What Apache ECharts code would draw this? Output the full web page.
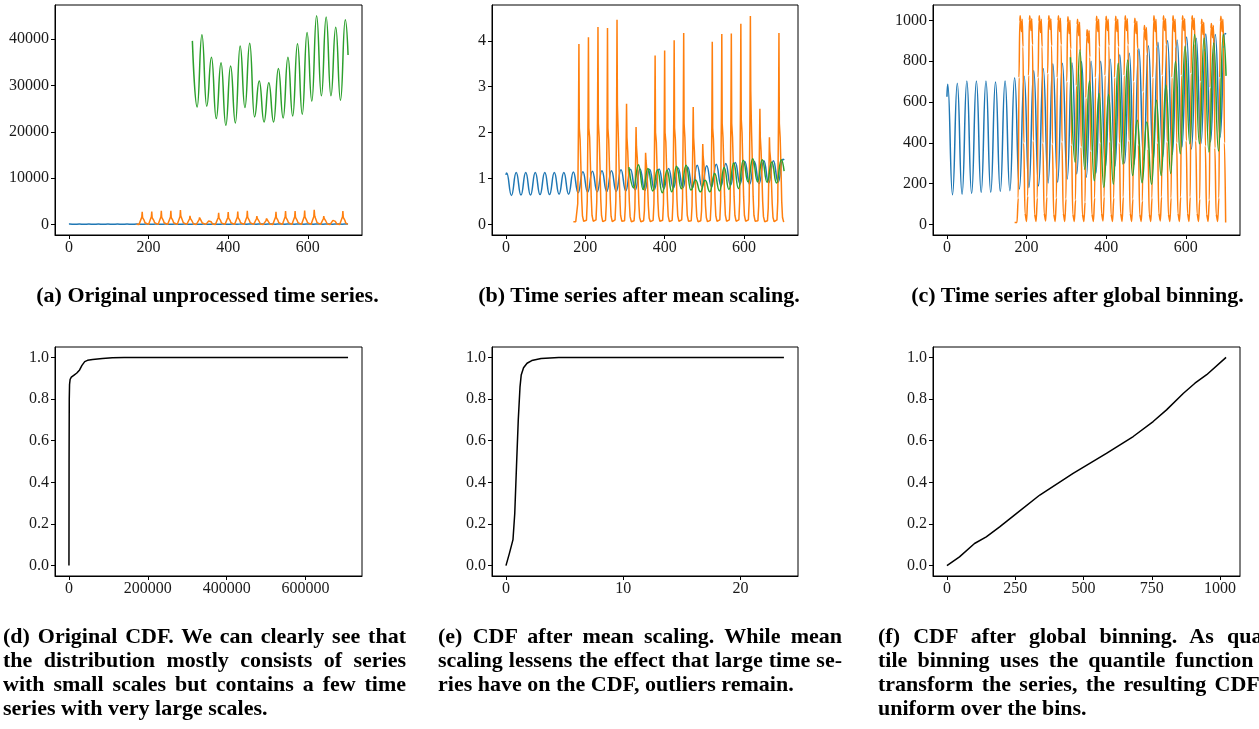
<!DOCTYPE html>
<html><head><meta charset="utf-8">
<script src="https://cdn.jsdelivr.net/npm/echarts@6/dist/echarts.min.js"></script>
<style>
html,body{margin:0;padding:0;background:#fff;overflow:hidden;width:1259px;height:729px;}
#chart{position:absolute;left:0;top:0;width:1259px;height:729px;}
.cap{position:absolute;font-family:'Liberation Serif','Times New Roman',serif;font-weight:bold;font-size:22px;line-height:24px;color:#000;white-space:nowrap;}
</style></head>
<body>
<div id="chart"></div>
<div class="cap" style="left:0px;width:415px;top:283px;text-align:center">(a) Original unprocessed time series.</div>
<div class="cap" style="left:439px;width:400px;top:283px;text-align:center">(b) Time series after mean scaling.</div>
<div class="cap" style="left:877px;width:401px;top:283px;text-align:center">(c) Time series after global binning.</div>

<div class="cap" style="left:3px;top:624px" data-j="403">(d) Original CDF. We can clearly see that</div>
<div class="cap" style="left:3px;top:648px" data-j="403">the distribution mostly consists of series</div>
<div class="cap" style="left:3px;top:672px" data-j="403">with small scales but contains a few time</div>
<div class="cap" style="left:3px;top:696px">series with very large scales.</div>

<div class="cap" style="left:438px;top:624px" data-j="404">(e) CDF after mean scaling. While mean</div>
<div class="cap" style="left:438px;top:648px" data-j="404">scaling lessens the effect that large time se-</div>
<div class="cap" style="left:438px;top:672px">ries have on the CDF, outliers remain.</div>

<div class="cap" style="left:878px;top:624px" data-j="404">(f) CDF after global binning. As quan-</div>
<div class="cap" style="left:878px;top:648px" data-j="404">tile binning uses the quantile function to</div>
<div class="cap" style="left:878px;top:672px" data-j="404">transform the series, the resulting CDF is</div>
<div class="cap" style="left:878px;top:696px">uniform over the bins.</div>
<script>
// ---------- DATA ----------
const blueTimes = [0,2,14,26,38,50,62,74,86,98,110,122,134,146,158,170,182,194,206,218,230,242,254,266,278,290,302,314,326,338,350,362,374,386,398,410,422,434,446,458,470,482,494,506,518,530,542,554,566,578,590,602,614,626,638,650,662,674,686,698,701];
const blueA = [97, 101,57, 102,58, 102,58, 102,59, 102,59, 102,59, 102,59, 103,62, 104,63, 104,64, 105,65, 105,65, 107,66, 108,68, 109,67, 108,68, 109,70, 110,71, 111,72, 113,72, 116,74, 115,74, 118,76, 120,77, 122,79, 123,78, 123,80, 125,81, 125,83, 128, 126];
const blueB = [1.08, 1.12,0.63, 1.13,0.64, 1.13,0.64, 1.13,0.65, 1.13,0.65, 1.13,0.66, 1.13,0.66, 1.14,0.69, 1.15,0.70, 1.16,0.71, 1.17,0.72, 1.17,0.72, 1.19,0.73, 1.20,0.75, 1.21,0.74, 1.20,0.76, 1.21,0.78, 1.22,0.79, 1.23,0.80, 1.25,0.80, 1.29,0.82, 1.28,0.82, 1.31,0.84, 1.33,0.85, 1.35,0.88, 1.37,0.87, 1.37,0.89, 1.39,0.90, 1.39,0.92, 1.42, 1.40];
const blueC = [626, 687,146, 692,148, 703,152, 703,157, 703,158, 698,162, 703,166, 719,174, 726,181, 754,189, 764,204, 787,207, 790,223, 792,248, 798,232, 800,250, 800,281, 810,285, 831,300, 839,295, 861,317, 875,312, 893,330, 901,343, 904,379, 918,370, 912,396, 933,404, 930,428, 935, 932];

const greenTimes = [310,322,334,346,358,370,382,394,406,418,430,442,454,466,478,490,502,514,526,538,550,562,574,586,598,610,622,634,646,658,670,682,694,701];
const greenA = [39640, 25390,40940, 25530,36090, 22860,34940, 21410,34210, 21920,38550, 25240,39130, 23220,30960, 22130,30600, 22130,33700, 23000,36090, 23440,38990, 23800,41440, 26620,45060, 27770,44770, 27770,42600, 26830,44190, 36600];
const greenB = [1.25, 0.80,1.30, 0.76,1.22, 0.73,1.19, 0.69,1.18, 0.71,1.27, 0.78,1.29, 0.75,0.97, 0.71,0.96, 0.71,1.11, 0.73,1.24, 0.76,1.34, 0.78,1.40, 0.93,1.43, 0.93,1.41, 0.92,1.36, 0.90,1.41, 1.16];
const greenC = [819, 305,856, 270,703, 214,642, 182,637, 197,790, 297,806, 240,511, 205,502, 197,609, 240,683, 250,798, 347,872, 396,930, 396,913, 355,889, 360,930, 728];

const orangeTimes = [170,
176,179,181,183,184,185,187,189,191,193,196,
200,203,205,207,208,209,211,213,215,217,220,
224,227,229,231,232,233,235,237,239,241,244,
248,251,253,255,256,257,259,261,263,265,268,
272,275,277,279,280,281,283,285,287,289,292,
296,299,301,303,304,305,307,309,311,313,316,
320,323,325,327,328,329,331,333,335,337,340,
344,347,349,351,352,353,355,357,359,361,364,
368,371,373,375,376,377,379,381,383,385,388,
392,395,397,399,400,401,403,405,407,409,412,
416,419,421,423,424,425,427,429,431,433,436,
440,443,445,447,448,449,451,453,455,457,460,
464,467,469,471,472,473,475,477,479,481,484,
488,491,493,495,496,497,499,501,503,505,508,
512,515,517,519,520,521,523,525,527,529,532,
536,539,541,543,544,545,547,549,551,553,556,
560,563,565,567,568,569,571,573,575,577,580,
584,587,589,591,592,593,595,597,599,601,604,
608,611,613,615,616,617,619,621,623,625,628,
632,635,637,639,640,641,643,645,647,649,652,
656,659,661,663,664,665,667,669,671,673,676,
680,683,685,687,688,689,691,693,695,697,700];
const orangeA = [40,
35,60,310,1600,2750,1470,1300,880,390,130,50,
35,60,350,1680,2820,1470,1330,910,420,140,50,
35,70,350,1680,2970,1540,1330,910,390,130,45,
35,60,310,1610,2970,1470,1300,880,390,130,45,
35,70,350,1750,3110,1820,1400,910,420,140,50,
35,55,280,1260,1880,1330,1120,770,350,120,45,
35,55,245,1050,1520,1190,1020,700,320,105,45,
35,55,210,770,1160,980,840,600,280,100,45,
35,60,310,1540,2530,1400,1260,840,350,130,50,
35,60,310,1540,2680,1400,1260,840,390,130,45,
35,60,350,1610,2820,1470,1300,880,390,130,50,
35,70,350,1680,2970,1540,1330,910,420,140,50,
35,55,280,1260,1810,1330,1120,770,350,120,45,
35,55,210,840,1300,1050,910,630,280,105,45,
35,60,310,1610,2750,1470,1300,880,390,130,50,
35,70,350,1680,2890,1540,1330,910,420,140,50,
35,70,350,1680,2890,1540,1330,910,420,140,50,
35,70,350,1750,3040,1610,1400,910,420,140,50,
35,70,350,1750,3180,2030,1400,950,420,140,50,
35,55,280,1260,1810,1330,1120,770,350,120,45,
35,55,245,910,1300,1120,980,670,320,105,45,
35,70,350,1680,2890,1540,1330,910,350,105,35];
const orangeB = [0.06,
0.06,0.09,0.45,2.3,3.93,2.1,1.85,1.25,0.55,0.18,0.07,
0.05,0.09,0.5,2.4,4.08,2.1,1.9,1.3,0.6,0.2,0.07,
0.05,0.1,0.5,2.4,4.30,2.2,1.9,1.3,0.55,0.19,0.06,
0.05,0.09,0.45,2.3,4.28,2.1,1.85,1.25,0.55,0.18,0.06,
0.05,0.1,0.5,2.5,4.46,2.6,2.0,1.3,0.6,0.2,0.07,
0.05,0.08,0.4,1.8,2.63,1.9,1.6,1.1,0.5,0.17,0.06,
0.05,0.08,0.35,1.5,2.12,1.7,1.45,1.0,0.45,0.15,0.06,
0.05,0.08,0.3,1.1,1.56,1.4,1.2,0.85,0.4,0.14,0.06,
0.05,0.09,0.45,2.2,3.68,2.0,1.8,1.2,0.5,0.18,0.07,
0.05,0.09,0.45,2.2,3.79,2.0,1.8,1.2,0.55,0.18,0.06,
0.05,0.09,0.5,2.3,4.01,2.1,1.85,1.25,0.55,0.19,0.07,
0.05,0.1,0.5,2.4,4.17,2.2,1.9,1.3,0.6,0.2,0.07,
0.05,0.08,0.4,1.8,2.56,1.9,1.6,1.1,0.5,0.17,0.06,
0.05,0.08,0.3,1.2,1.75,1.5,1.3,0.9,0.4,0.15,0.06,
0.05,0.09,0.45,2.3,3.98,2.1,1.85,1.25,0.55,0.18,0.07,
0.05,0.1,0.5,2.4,4.15,2.2,1.9,1.3,0.6,0.2,0.07,
0.05,0.1,0.5,2.4,4.16,2.2,1.9,1.3,0.6,0.2,0.07,
0.05,0.1,0.5,2.5,4.37,2.3,2.0,1.3,0.6,0.2,0.07,
0.05,0.1,0.5,2.5,4.54,2.9,2.0,1.35,0.6,0.2,0.07,
0.05,0.08,0.4,1.8,2.52,1.9,1.6,1.1,0.5,0.17,0.06,
0.05,0.08,0.35,1.3,1.90,1.6,1.4,0.95,0.45,0.15,0.06,
0.05,0.1,0.5,2.4,4.17,2.2,1.9,1.3,0.5,0.15,0.05];
const orangeC = [10,
10,130,720,995,1022,1000,945,1005,870,400,55,
15,140,730,1000,1022,1002,950,1008,880,410,50,
15,130,720,995,1022,1000,940,1005,870,400,55,
18,135,740,1000,1022,1005,955,1008,875,395,50,
15,130,720,998,1022,1003,945,1010,880,405,55,
15,125,700,990,1018,995,935,1000,860,390,50,
15,120,680,980,1005,985,925,990,850,380,50,
15,110,620,920,954,940,890,950,820,360,50,
15,130,720,995,1020,1000,945,1005,870,400,55,
18,135,730,998,1020,1002,950,1005,875,405,50,
15,130,720,995,1020,1000,945,1005,870,400,55,
15,135,730,1000,1022,1003,950,1008,880,410,55,
15,125,700,985,1010,990,935,995,860,390,50,
15,115,650,950,975,960,905,965,835,370,50,
15,130,720,995,1022,1000,945,1005,870,400,55,
18,135,730,1000,1022,1003,950,1008,880,405,50,
15,130,720,995,1022,1000,945,1005,870,400,55,
15,135,730,1000,1022,1003,950,1008,880,410,55,
15,135,740,1002,1022,1005,955,1010,885,410,55,
15,125,700,980,1005,985,930,990,855,385,50,
15,120,670,960,985,970,915,975,845,375,50,
15,130,720,995,1020,1000,945,1005,870,400,10];

const cdfOrigX = [0,300,800,1500,3000,6000,13000,20000,27000,33000,40000,47000,60000,85000,110000,140000,708000];
const cdfOrigY = [0,0.5,0.8,0.87,0.895,0.905,0.915,0.925,0.94,0.962,0.98,0.986,0.99,0.995,0.998,1.0,1.0];
const cdfMeanX = [0,0.3,0.6,0.75,0.9,1.05,1.2,1.3,1.5,1.8,2.2,3.0,4.5,23.7];
const cdfMeanY = [0,0.06,0.125,0.25,0.48,0.7,0.86,0.915,0.95,0.972,0.985,0.995,1.0,1.0];
const cdfBinX = [0,46,101,144,193,254,340,462,584,682,755,804,866,908,951,1022];
const cdfBinY = [0,0.042,0.106,0.138,0.186,0.25,0.339,0.443,0.539,0.62,0.692,0.748,0.828,0.876,0.917,1.0];

const ticksTime = [0,200,400,600];
const ticksRaw = [0,10000,20000,30000,40000];
const ticksMean = [0,1,2,3,4];
const ticksBin = [0,200,400,600,800,1000];
const ticksCdf = [0,0.2,0.4,0.6,0.8,1.0];
const ticksOrigX = [0,200000,400000,600000];
const ticksMeanX = [0,10,20];
const ticksBinX = [0,250,500,750,1000];

// ---------- CHART ----------
const FONT = "'Liberation Serif','Times New Roman',serif";
const BLUE = '#1f77b4', ORANGE = '#ff7f0e', GREEN = '#2ca02c';
const pts = (xs, ys) => xs.map((x, i) => [x, ys[i]]);

const grids = [
  {left:55, top:5, width:307, height:230},
  {left:492, top:5, width:306, height:230},
  {left:933, top:5, width:307, height:230},
  {left:55, top:347, width:307, height:229},
  {left:492, top:347, width:306, height:229},
  {left:933, top:347, width:307, height:229}
].map(g => Object.assign(g, {show:true, borderColor:'#000', borderWidth:1, backgroundColor:'transparent', containLabel:false, outerBoundsMode:'none'}));

function axis(kind, idx, min, max, ticks, fmt) {
  return {
    type:'value', gridIndex: idx, min, max, scale:false,
    axisLine:{show:true, onZero:false, lineStyle:{color:'#000', width:1}},
    axisTick:{show:true, customValues:ticks, length:4, inside:false, lineStyle:{color:'#000', width:1}},
    axisLabel:{show:true, customValues:ticks, margin: kind==='x'?5:6, color:'#1a1a1a', fontFamily:FONT, fontSize:16, formatter: fmt},
    splitLine:{show:false}
  };
}
const plain = v => String(v);
const one = v => Number(v).toFixed(1);

const xAxes = [
  axis('x',0,-35,736,ticksTime,plain),
  axis('x',1,-35,736,ticksTime,plain),
  axis('x',2,-35,736,ticksTime,plain),
  axis('x',3,-35400,743400,ticksOrigX,plain),
  axis('x',4,-1.19,24.9,ticksMeanX,plain),
  axis('x',5,-51,1073,ticksBinX,plain)
];
const yAxes = [
  axis('y',0,-2256,47376,ticksRaw,plain),
  axis('y',1,-0.23,4.78,ticksMean,plain),
  axis('y',2,-51,1075,ticksBin,plain),
  axis('y',3,-0.05,1.05,ticksCdf,one),
  axis('y',4,-0.05,1.05,ticksCdf,one),
  axis('y',5,-0.05,1.05,ticksCdf,one)
];

function line(idx, data, color, smooth) {
  return {type:'line', xAxisIndex:idx, yAxisIndex:idx, data, symbol:'none', showSymbol:false,
    smooth: smooth, smoothMonotone:'x', lineStyle:{color, width:1.5}, itemStyle:{color}, emphasis:{disabled:true}, silent:true, clip:true};
}

const series = [
  line(0, pts(blueTimes, blueA), BLUE, 0.5),
  line(0, pts(orangeTimes, orangeA), ORANGE, false),
  line(0, pts(greenTimes, greenA), GREEN, 0.5),
  line(1, pts(blueTimes, blueB), BLUE, 0.5),
  line(1, pts(orangeTimes, orangeB), ORANGE, false),
  line(1, pts(greenTimes, greenB), GREEN, 0.5),
  line(2, pts(blueTimes, blueC), BLUE, 0.5),
  line(2, pts(orangeTimes, orangeC), ORANGE, 0.3),
  line(2, pts(greenTimes, greenC), GREEN, 0.5),
  line(3, pts(cdfOrigX, cdfOrigY), '#000', false),
  line(4, pts(cdfMeanX, cdfMeanY), '#000', false),
  line(5, pts(cdfBinX, cdfBinY), '#000', false)
];

const chart = echarts.init(document.getElementById('chart'), null, {renderer:'canvas'});
chart.setOption({animation:false, backgroundColor:'#fff', grid:grids, xAxis:xAxes, yAxis:yAxes, series});

// justify caption lines
document.querySelectorAll('.cap[data-j]').forEach(el => {
  const target = parseFloat(el.getAttribute('data-j'));
  const w = el.getBoundingClientRect().width;
  const spaces = (el.textContent.match(/ /g) || []).length;
  if (spaces > 0) el.style.wordSpacing = ((target - w) / spaces) + 'px';
});
</script>
</body></html>
